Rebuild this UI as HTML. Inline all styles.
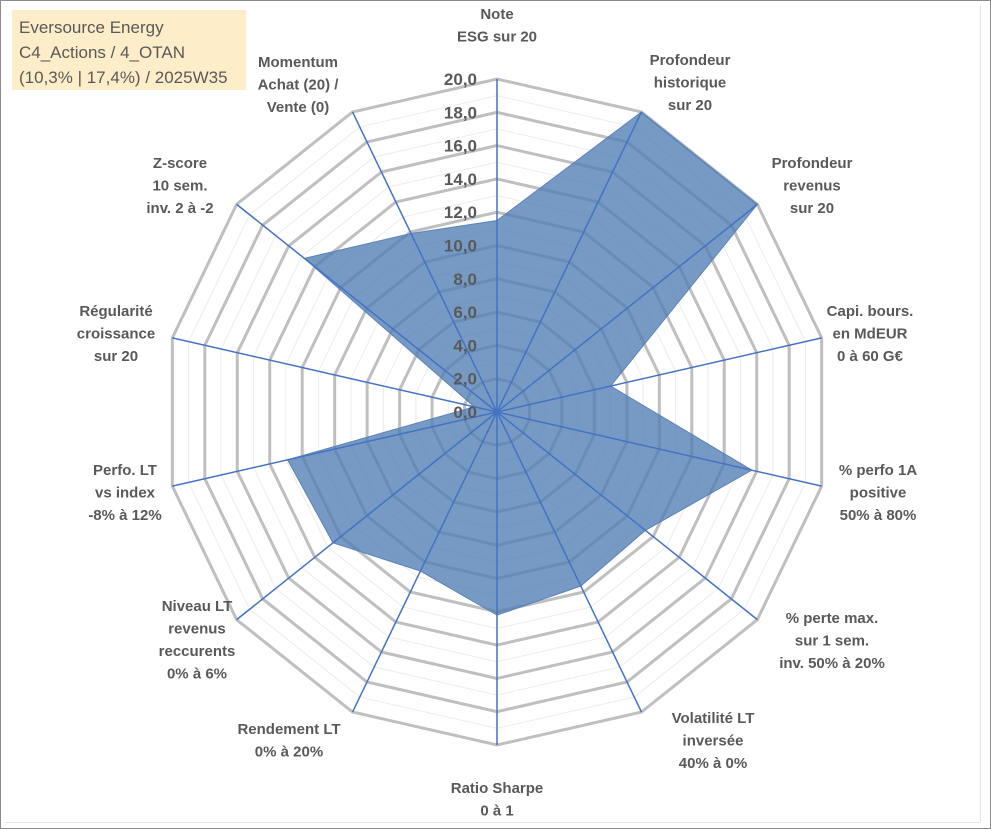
<!DOCTYPE html>
<html><head><meta charset="utf-8"><style>
body{margin:0;background:#fff;}
#wrap{position:relative;width:991px;height:829px;overflow:hidden;font-family:"Liberation Sans",Arial,sans-serif;}
svg text{font-family:"Liberation Sans",Arial,sans-serif;}
</style></head><body>
<div id="wrap">
<svg id="chart" width="991" height="829">
<rect x="0.5" y="0.5" width="990" height="828" fill="#fff" stroke="#8c8c8c"/>
<line x1="980.5" y1="5" x2="980.5" y2="822" stroke="#e4e4e4"/>
<line x1="5" y1="822.5" x2="980" y2="822.5" stroke="#e4e4e4"/>
<rect x="12" y="10" width="234" height="80" fill="#fdedc9"/>
<text x="19" y="33" font-size="17" fill="#595959">Eversource Energy</text>
<text x="19" y="58" font-size="17" fill="#595959">C4_Actions / 4_OTAN</text>
<text x="19" y="83" font-size="17" fill="#595959">(10,3% | 17,4%) / 2025W35</text>
<g id="grid"></g><g id="series"></g><g id="axes"></g><g id="ticks"></g><g id="labels"></g>
</svg>
</div>
<script>
const categories=[["Note","ESG sur 20"],["Profondeur","historique","sur 20"],["Profondeur","revenus","sur 20"],["Capi. bours.","en MdEUR","0 à 60 G€"],["% perfo 1A","positive","50% à 80%"],["% perte max.","sur 1 sem.","inv. 50% à 20%"],["Volatilité LT","inversée","40% à 0%"],["Ratio Sharpe","0 à 1"],["Rendement LT","0% à 20%"],["Niveau LT","revenus","reccurents","0% à 6%"],["Perfo. LT","vs index","-8% à 12%"],["Régularité","croissance","sur 20"],["Z-score","10 sem.","inv. 2 à -2"],["Momentum","Achat (20) /","Vente (0)"]];
const values=[11.5,20,20,7.0,15.7,11.4,11.6,12.2,10.6,12.6,12.9,1.4,14.8,11.9];
const tickLabels=["0,0","2,0","4,0","6,0","8,0","10,0","12,0","14,0","16,0","18,0","20,0"];
const labelPos=[[497,14],[690,60],[812,163],[870,311],[878,470],[832,618],[713,718],[497,788],[289,729],[197,606],[125,470],[116,311],[180,163],[298,62]];
const NS="http://www.w3.org/2000/svg";
const cx=497,cy=412,R=333,MAX=20,N=categories.length;
function pt(i,v){const a=i*2*Math.PI/N;const r=v/MAX*R;return [cx+r*Math.sin(a),cy-r*Math.cos(a)];}
function mk(tag,attrs,parent){const e=document.createElementNS(NS,tag);for(const k in attrs)e.setAttribute(k,attrs[k]);document.getElementById(parent).appendChild(e);return e;}
// grid rings
for(let v=1;v<=MAX;v++){
  const pts=[];for(let i=0;i<N;i++)pts.push(pt(i,v).join(","));
  const major=v%2===0;
  const e=mk("polygon",{points:pts.join(" "),fill:"none",stroke:major?"#bfbfbf":"#ececec","stroke-width":major?3:1},"grid");
  
  
}
// series
const sp=values.map((v,i)=>pt(i,v).join(",")).join(" ");
const poly=mk("polygon",{points:sp,fill:"#4f7db4","fill-opacity":"0.78",stroke:"#5a83bb","stroke-width":1},"series");


// axes
for(let i=0;i<N;i++){
  const p=pt(i,MAX);
  const l=mk("line",{x1:cx,y1:cy,x2:p[0],y2:p[1],stroke:"#4472c4","stroke-width":1.5},"axes");
  
  
}
// ticks
tickLabels.forEach((t,k)=>{
  const v=k*2;const y=cy-v/MAX*R;
  const e=mk("text",{x:477,y:y+6,"text-anchor":"end","font-size":17,"font-weight":"bold",fill:"#595959"},"ticks");
  e.textContent=t;
  
  
});
// labels
categories.forEach((lines,i)=>{
  const [x,y]=labelPos[i];
  const e=mk("text",{x:x,y:y+5,"text-anchor":"middle","font-size":15,"font-weight":"bold",fill:"#595959"},"labels");
  lines.forEach((s,j)=>{const ts=document.createElementNS(NS,"tspan");ts.setAttribute("x",x);ts.setAttribute("dy",j===0?0:22.5);ts.textContent=s;e.appendChild(ts);});
  
  
});
</script>
</body></html>
